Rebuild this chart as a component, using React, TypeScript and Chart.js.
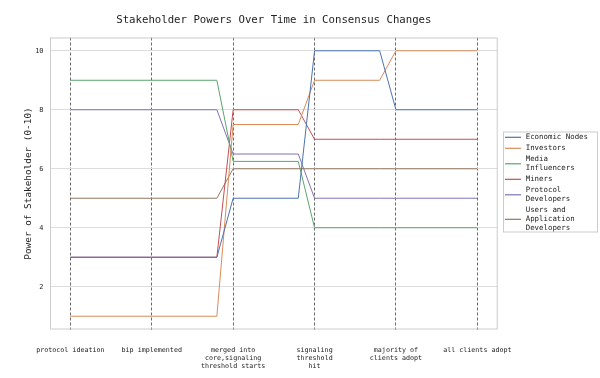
import React, { useEffect, useRef } from "react";
import { Chart, registerables } from "chart.js";

Chart.register(...registerables);

const chartTitle = "Stakeholder Powers Over Time in Consensus Changes";
const yAxisTitle = "Power of Stakeholder (0-10)";

const stagePositions = [0, 1, 2, 3, 4, 5];
const stageLabels = [
  ["protocol ideation"],
  ["bip implemented"],
  ["merged into", "core,signaling", "threshold starts"],
  ["signaling", "threshold", "hit"],
  ["majority of", "clients adopt"],
  ["all clients adopt"],
];
const yTicks = [2, 4, 6, 8, 10];

const timePoints = [0, 1, 1.8, 2, 2.8, 3, 3.8, 4, 5];
const economicNodes = [3, 3, 3, 5, 5, 10, 10, 8, 8];
const investors = [1, 1, 1, 7.5, 7.5, 9, 9, 10, 10];
const mediaInfluencers = [9, 9, 9, 6.25, 6.25, 4, 4, 4, 4];
const miners = [3, 3, 3, 8, 8, 7, 7, 7, 7];
const protocolDevelopers = [8, 8, 8, 6.5, 6.5, 5, 5, 5, 5];
const usersAppDevelopers = [5, 5, 5, 6, 6, 6, 6, 6, 6];

const seriesNames = [
  "Economic Nodes",
  "Investors",
  "Media Influencers",
  "Miners",
  "Protocol Developers",
  "Users and Application Developers",
];
const legendLines = [
  ["Economic Nodes"],
  ["Investors"],
  ["Media", "Influencers"],
  ["Miners"],
  ["Protocol", "Developers"],
  ["Users and", "Application", "Developers"],
];
const seriesValues = [
  economicNodes,
  investors,
  mediaInfluencers,
  miners,
  protocolDevelopers,
  usersAppDevelopers,
];
const seriesColors = ["#4C72B0", "#D98C5A", "#5BA56E", "#C44E52", "#8172B3", "#937860"];

const FONT = '"DejaVu Sans Mono", monospace';

const overlayPlugin = {
  id: "overlay",
  afterDraw(chart: any) {
    const { ctx, chartArea: a } = chart;
    ctx.save();
    // frame
    ctx.strokeStyle = "#cccccc";
    ctx.lineWidth = 1;
    ctx.setLineDash([]);
    ctx.strokeRect(a.left + 0.5, a.top + 0.5, a.right - a.left - 1, a.bottom - a.top - 1);
    // title
    ctx.fillStyle = "#222";
    ctx.font = `10.7px ${FONT}`;
    ctx.textAlign = "center";
    ctx.textBaseline = "middle";
    ctx.fillText(chartTitle, (a.left + a.right) / 2, 20.7);
    // legend
    const bx = 503, by = 131.5, bw = 95, bh = 101;
    ctx.fillStyle = "rgba(255,255,255,0.9)";
    ctx.fillRect(bx, by, bw, bh);
    ctx.strokeStyle = "#cccccc";
    ctx.strokeRect(bx + 0.5, by + 0.5, bw - 1, bh - 1);
    const lineH = 9.0;
    const gap = 2.0;
    let y = 137.3;
    ctx.font = `7.4px ${FONT}`;
    ctx.textAlign = "left";
    legendLines.forEach((lines, i) => {
      const mid = y + ((lines.length - 1) * lineH) / 2;
      ctx.strokeStyle = seriesColors[i];
      ctx.lineWidth = 1.2;
      ctx.beginPath();
      ctx.moveTo(505, mid);
      ctx.lineTo(521, mid);
      ctx.stroke();
      ctx.fillStyle = "#222";
      lines.forEach((t, k) => ctx.fillText(t, 525.7, y + k * lineH));
      y += lines.length * lineH + gap;
    });
    ctx.restore();
  },
};

export default function App() {
  const ref = useRef<HTMLCanvasElement | null>(null);
  useEffect(() => {
    if (!ref.current) return;
    const chart = new Chart(ref.current, {
      type: "line",
      data: {
        datasets: seriesNames.map((name, i) => ({
          label: name,
          data: timePoints.map((t, j) => ({ x: t, y: seriesValues[i][j] })),
          borderColor: seriesColors[i],
          backgroundColor: seriesColors[i],
          borderWidth: 1,
          pointRadius: 0,
          tension: 0,
          fill: false,
        })),
      },
      options: {
        responsive: false,
        animation: false,
        layout: { padding: { top: 37.5, right: 102.3, left: 0, bottom: 0 } },
        plugins: {
          legend: { display: false },
          title: { display: false },
          tooltip: { enabled: false },
        },
        scales: {
          x: {
            type: "linear",
            min: -0.25,
            max: 5.25,
            afterBuildTicks: (s: any) => {
              s.ticks = stagePositions.map((v) => ({ value: v }));
            },
            afterFit: (s: any) => {
              s.height = 48.5;
            },
            grid: { color: "#6a6a6a", lineWidth: 1, drawTicks: false },
            border: { display: false, dash: [3, 2] },
            ticks: {
              autoSkip: false,
              maxRotation: 0,
              minRotation: 0,
              padding: 17.35,
              color: "#222",
              font: { family: FONT, size: 6.7, lineHeight: 1.15 },
              callback: (v: any) => {
                const idx = stagePositions.indexOf(Number(v));
                return idx >= 0 ? stageLabels[idx] : "";
              },
            },
          },
          y: {
            type: "linear",
            min: 0.55,
            max: 10.45,
            afterBuildTicks: (s: any) => {
              s.ticks = yTicks.map((v) => ({ value: v }));
            },
            afterFit: (s: any) => {
              s.width = 50;
            },
            grid: { color: "#dddddd", lineWidth: 1, drawTicks: false },
            border: { display: false },
            ticks: {
              padding: 6.5,
              color: "#222",
              font: { family: FONT, size: 6.9 },
            },
            title: {
              display: true,
              text: yAxisTitle,
              color: "#222",
              font: { family: FONT, size: 9.4, lineHeight: 1.2 },
              padding: { top: 23.4, bottom: 0 },
            },
          },
        },
      },
      plugins: [overlayPlugin],
    } as any);
    return () => chart.destroy();
  }, []);
  return (
    <div style={{ position: "fixed", left: 0, top: 0, width: 600, height: 378, background: "#fff" }}>
      <canvas ref={ref} width={600} height={378} style={{ width: 600, height: 378, display: "block" }} />
    </div>
  );
}
